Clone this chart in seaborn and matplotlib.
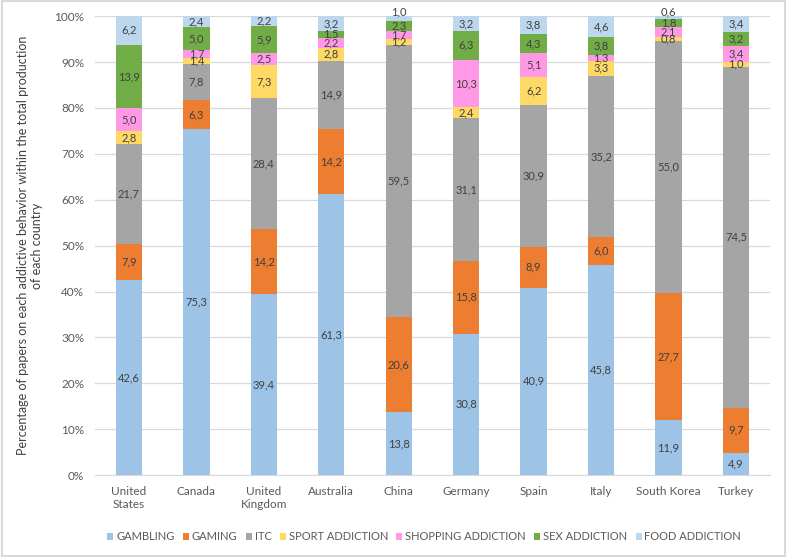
import numpy as np
import pandas as pd
import matplotlib; matplotlib.use('Agg')
import matplotlib.pyplot as plt
from matplotlib.patches import Rectangle, Patch
import seaborn as sns

# ── Data ──────────────────────────────────────────────────────────
countries = ['United\nStates', 'Canada', 'United\nKingdom', 'Australia', 'China',
             'Germany', 'Spain', 'Italy', 'South Korea', 'Turkey']
behaviors = ['GAMBLING', 'GAMING', 'ITC', 'SPORT ADDICTION',
             'SHOPPING ADDICTION', 'SEX ADDICTION', 'FOOD ADDICTION']

gambling = [42.6, 75.3, 39.4, 61.3, 13.8, 30.8, 40.9, 45.8, 11.9, 4.9]
gaming   = [7.9, 6.3, 14.2, 14.2, 20.6, 15.8, 8.9, 6.0, 27.7, 9.7]
itc      = [21.7, 7.8, 28.4, 14.9, 59.5, 31.1, 30.9, 35.2, 55.0, 74.5]
sport    = [2.8, 1.4, 7.3, 2.8, 1.2, 2.4, 6.2, 3.3, 0.8, 1.0]
shopping = [5.0, 1.7, 2.5, 2.2, 1.7, 10.3, 5.1, 1.3, 2.1, 3.4]
sex      = [13.9, 5.0, 5.9, 1.5, 2.3, 6.3, 4.3, 3.8, 1.8, 3.2]
food     = [6.2, 2.4, 2.2, 3.2, 1.0, 3.2, 3.8, 4.6, 0.6, 3.4]

colors = ['#9DC3E6', '#ED7D31', '#A5A5A5', '#FFD966', '#FF99E6', '#70AD47', '#BDD7EE']

# ── Build table (100% stacked) ────────────────────────────────────
vals = np.array([gambling, gaming, itc, sport, shopping, sex, food])
pct = vals / vals.sum(axis=0) * 100
cum = np.cumsum(pct, axis=0)

FONT = ['Lato', 'DejaVu Sans']
plt.rcParams['font.family'] = FONT
txt_col = '#595959'

fig = plt.figure(figsize=(7.87, 5.57), dpi=100)
ax = fig.add_axes([0.121, 0.147, 0.857, 0.824])

# draw tallest cumulative first, then lower ones on top
for i in range(len(behaviors) - 1, -1, -1):
    d = pd.DataFrame({'country': countries, 'top': cum[i]})
    sns.barplot(data=d, x='country', y='top', color=colors[i], width=0.39,
                saturation=1, ax=ax, zorder=2)

# value labels
for i, b in enumerate(behaviors):
    for j in range(len(countries)):
        y = cum[i, j] - pct[i, j] / 2
        if b == 'FOOD ADDICTION' and pct[i, j] < 1.5:
            y = cum[i, j] + 1.0
        ax.text(j, y, f'{vals[i, j]:.1f}'.replace('.', ','), ha='center',
                va='center', fontsize=8, color='#404040', zorder=3)

ax.set_ylim(0, 100)
ax.set_xlim(-0.5, len(countries) - 0.5)
ax.set_yticks(np.arange(0, 101, 10))
ax.set_yticklabels([f'{t}%' for t in range(0, 101, 10)], fontsize=8.5, color=txt_col)
ax.set_xticks(range(len(countries)))
ax.set_xticklabels(countries, fontsize=8.5, color=txt_col)
ax.tick_params(axis='both', length=0, pad=8)
ax.yaxis.grid(True, color='#D9D9D9', linewidth=0.9, zorder=0)
ax.set_axisbelow(True)
for s in ['top', 'right', 'left']:
    ax.spines[s].set_visible(False)
ax.spines['bottom'].set_color('#D9D9D9')
ax.set_xlabel('')
ax.set_ylabel('Percentage of papers on each addictive behavior within the total production\nof each country',
              fontsize=9, color='#404040', labelpad=8, linespacing=1.25)

handles = [Patch(facecolor=c, edgecolor='none') for c in colors]
fig.legend(handles, behaviors, loc='center', bbox_to_anchor=(0.539, 0.036), ncol=7,
           frameon=False, fontsize=8, handlelength=0.55, handleheight=0.55,
           handletextpad=0.25, columnspacing=0.75, labelcolor=txt_col)

fig.patches.append(Rectangle((0.002, 0.002), 0.996, 0.996, transform=fig.transFigure,
                             fill=False, edgecolor='#D9D9D9', linewidth=1.5))

fig.savefig('out.png', dpi=100)
